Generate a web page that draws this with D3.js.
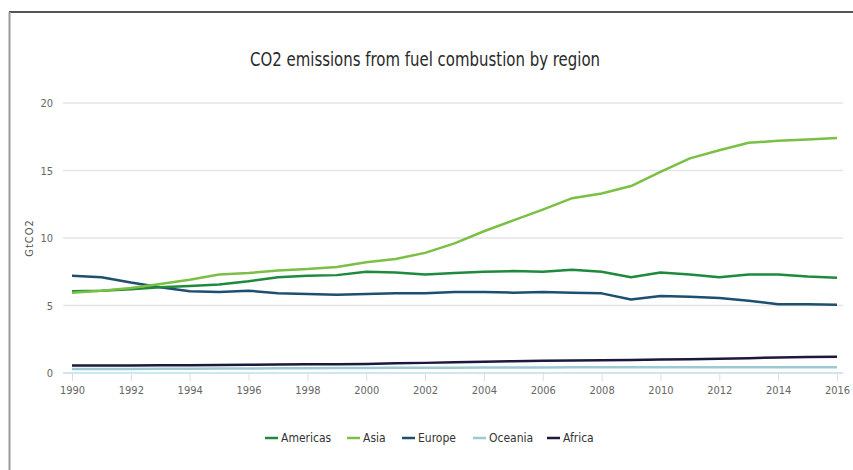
<!DOCTYPE html>
<html><head><meta charset="utf-8">
<script src="https://cdn.jsdelivr.net/npm/d3@7/dist/d3.min.js"></script>
<style>
html,body{margin:0;padding:0;background:#fff;}
svg{display:block;}
text{font-family:"Liberation Sans Narrow","DejaVu Sans Condensed","Open Sans",sans-serif;}
</style></head>
<body>
<svg id="c" width="853" height="470"></svg>
<script>
const years = d3.range(1990, 2017);
const americas = [6.05,6.1,6.2,6.35,6.45,6.55,6.8,7.1,7.2,7.25,7.5,7.45,7.3,7.4,7.5,7.55,7.5,7.65,7.5,7.1,7.45,7.3,7.1,7.3,7.3,7.15,7.05];
const asia = [5.95,6.1,6.3,6.6,6.9,7.3,7.4,7.6,7.7,7.85,8.2,8.45,8.9,9.6,10.5,11.3,12.1,12.95,13.3,13.85,14.9,15.9,16.5,17.05,17.2,17.3,17.4];
const europe = [7.2,7.1,6.7,6.35,6.05,6.0,6.1,5.9,5.85,5.8,5.85,5.9,5.9,6.0,6.0,5.95,6.0,5.95,5.9,5.45,5.7,5.65,5.55,5.35,5.1,5.1,5.05];
const oceania = [0.3,0.3,0.3,0.31,0.32,0.33,0.34,0.35,0.36,0.37,0.37,0.38,0.38,0.39,0.4,0.4,0.41,0.42,0.42,0.42,0.42,0.42,0.42,0.42,0.42,0.42,0.42];
const africa = [0.55,0.55,0.56,0.57,0.58,0.6,0.61,0.63,0.64,0.65,0.67,0.72,0.75,0.8,0.84,0.87,0.9,0.92,0.95,0.96,1.0,1.02,1.06,1.1,1.15,1.18,1.2];
const seriesNames = ["Americas","Asia","Europe","Oceania","Africa"];
const seriesData = [americas, asia, europe, oceania, africa];
const colors = ["#1f8a3c","#7cbf45","#1d4f6e","#9ccad2","#1b1a3c"];
const yTicks = [0,5,10,15,20];
const xTicks = d3.range(1990, 2017, 2);
const title = "CO2 emissions from fuel combustion by region";
const yLabel = "GtCO2";

const svg = d3.select("#c");
// frame
svg.append("line").attr("x1",9).attr("x2",853).attr("y1",12).attr("y2",12).attr("stroke","#555").attr("stroke-width",2);
svg.append("line").attr("x1",9.5).attr("x2",9.5).attr("y1",12).attr("y2",470).attr("stroke","#999").attr("stroke-width",2);

const x = d3.scaleLinear().domain([1990,2016]).range([72,837]);
const y = d3.scaleLinear().domain([0,20]).range([373,103]);

svg.append("text").attr("x",425).attr("y",66).attr("text-anchor","middle")
  .attr("font-size",20).attr("fill","#2a2a2a").attr("textLength",350).attr("lengthAdjust","spacingAndGlyphs").text(title);

// grid
const gy = svg.append("g");
gy.selectAll("line").data(yTicks).join("line")
  .attr("x1",63).attr("x2",843).attr("y1",d=>y(d)).attr("y2",d=>y(d))
  .attr("stroke",d=>d===0?"#cfe6ee":"#e4e4e4").attr("stroke-width",d=>d===0?2:1.5);
gy.selectAll("text").data(yTicks).join("text")
  .attr("x",53).attr("y",d=>y(d)+4).attr("text-anchor","end").attr("font-size",11).attr("fill","#666").text(d=>d);

// x axis
const xa = svg.append("g").attr("transform","translate(0,374)")
  .call(d3.axisBottom(x).tickValues(xTicks).tickFormat(d3.format("d")).tickSize(7).tickSizeOuter(0));
xa.select(".domain").remove();
xa.selectAll(".tick line").attr("stroke","#ddd");
xa.selectAll(".tick text").attr("font-size",11).attr("fill","#666").attr("dy","0.9em")
  .attr("font-family","'Liberation Sans Narrow','DejaVu Sans Condensed','Open Sans',sans-serif");

svg.append("text").attr("transform","translate(33,238) rotate(-90)").attr("text-anchor","middle")
  .attr("font-size",11).attr("fill","#555").attr("letter-spacing",1).text(yLabel);

const line = d3.line().x((d,i)=>x(years[i])).y(d=>y(d));
// draw order: Oceania, Africa, Europe, Americas, Asia
[3,4,2,0,1].forEach(k=>{
  svg.append("path").datum(seriesData[k]).attr("d",line).attr("fill","none")
    .attr("stroke",colors[k]).attr("stroke-width",2.5).attr("stroke-linejoin","round");
});

// legend
const legX = [265,347,402,473,547];
const lg = svg.append("g");
seriesNames.forEach((n,i)=>{
  lg.append("line").attr("x1",legX[i]).attr("x2",legX[i]+13).attr("y1",438).attr("y2",438).attr("stroke",colors[i]).attr("stroke-width",2.5);
  lg.append("text").attr("x",legX[i]+16).attr("y",442).attr("font-size",12).attr("fill","#333").text(n);
});
</script>
</body></html>
